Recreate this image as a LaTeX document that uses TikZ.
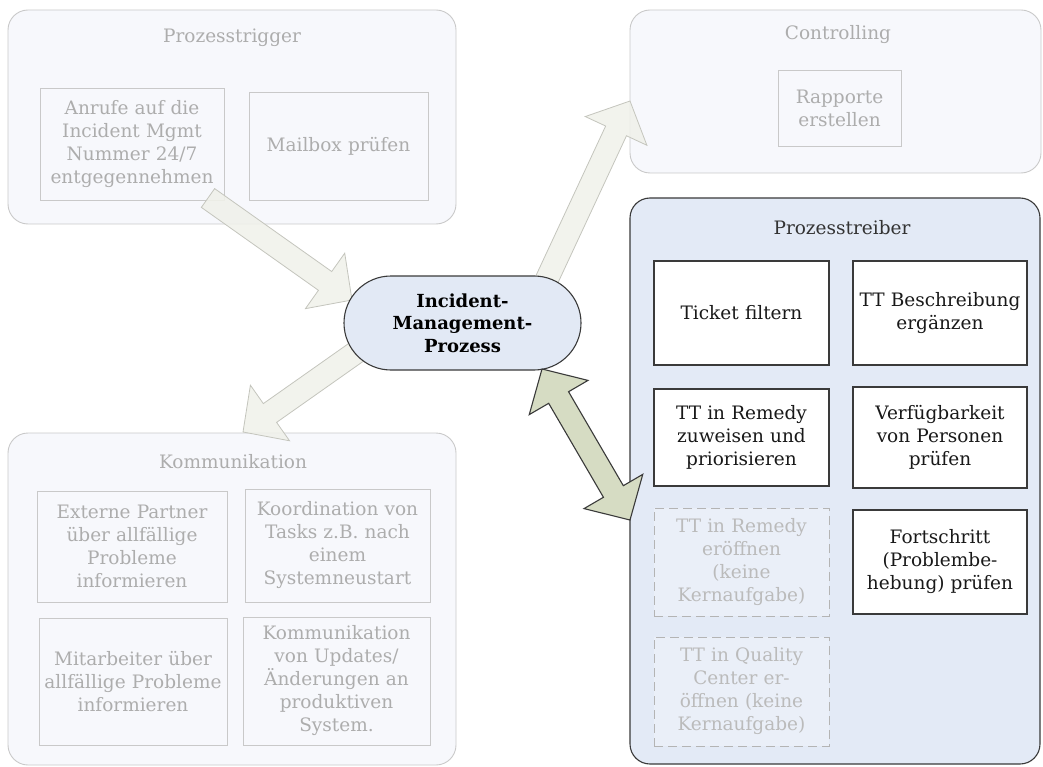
\documentclass[tikz,border=0pt]{standalone}
\usepackage{fontspec}
\setmainfont{DejaVu Serif}
\usetikzlibrary{calc}

\definecolor{pale}{HTML}{F7F8FC}
\definecolor{paleline}{HTML}{C9C9C9}
\definecolor{paletext}{HTML}{ADADAD}
\definecolor{driverfill}{HTML}{E3EAF6}
\definecolor{darkline}{HTML}{3A3A3A}
\definecolor{corefill}{HTML}{E2E9F5}
\definecolor{fadearrow}{HTML}{F0F1EA}
\definecolor{fadearrowline}{HTML}{C4C5BD}
\definecolor{linkfill}{HTML}{D6DCC3}
\definecolor{dashline}{HTML}{B4B4B4}
\definecolor{dashfill}{HTML}{EAEFF8}
\definecolor{dashtext}{HTML}{BBBBBB}

% block arrow: #1 style, #2 tail, #3 tip
\newcommand\blockarrow[3]{%
  \coordinate (ba-n) at ($(#3)!33pt!(#2)$);
  \draw[#1] ($(#2)!11.5pt!90:(#3)$) -- ($(ba-n)!11.5pt!90:(#3)$)
    -- ($(ba-n)!34pt!90:(#3)$) -- (#3) -- ($(ba-n)!34pt!-90:(#3)$)
    -- ($(ba-n)!11.5pt!-90:(#3)$) -- ($(#2)!11.5pt!-90:(#3)$) -- cycle;
}
% double-headed block arrow: #1 style, #2 and #3 the two tips
\newcommand\doubleblockarrow[3]{%
  \coordinate (dba-a) at ($(#2)!33pt!(#3)$);
  \coordinate (dba-b) at ($(#3)!33pt!(#2)$);
  \draw[#1] (#2) -- ($(dba-a)!34pt!90:(#3)$) -- ($(dba-a)!11.5pt!90:(#3)$)
    -- ($(dba-b)!11.5pt!90:(#3)$) -- ($(dba-b)!34pt!90:(#3)$) -- (#3)
    -- ($(dba-b)!34pt!-90:(#3)$) -- ($(dba-b)!11.5pt!-90:(#3)$)
    -- ($(dba-a)!11.5pt!-90:(#3)$) -- ($(dba-a)!34pt!-90:(#3)$) -- cycle;
}

\begin{document}
\begin{tikzpicture}[x=1pt,y=-1pt,
  font=\fontsize{18.5pt}{23pt}\selectfont,
  group/.style={draw=paleline, fill=pale, rounded corners=20pt, line width=0.9pt, inner sep=0pt},
  drivergroup/.style={draw=darkline, fill=driverfill, rounded corners=20pt, line width=1.1pt, inner sep=0pt},
  grouptitle/.style={text=paletext, inner sep=1pt},
  drivertitle/.style={text=black!80, inner sep=1pt},
  fadedbox/.style={draw=paleline, fill=pale, text=paletext, line width=0.9pt,
    align=center, inner xsep=0pt, inner ysep=2pt},
  taskbox/.style={draw=darkline, fill=white, text=black!90, line width=1.1pt,
    align=center, inner xsep=0pt, inner ysep=2pt},
  optbox/.style={draw=dashline, fill=dashfill, text=dashtext, line width=0.9pt,
    dash pattern=on 9pt off 5pt, align=center, inner xsep=0pt, inner ysep=2pt},
  corenode/.style={draw=darkline, fill=corefill, line width=1.1pt, rounded corners=47pt,
    minimum width=237pt, minimum height=94pt, align=center, font=\fontsize{18pt}{22.5pt}\selectfont\bfseries},
  fadedarrow/.style={draw=fadearrowline, fill=fadearrow, fill opacity=0.88, line width=0.8pt, line join=miter},
  linkarrow/.style={draw=darkline, fill=linkfill, line width=1.1pt, line join=miter}
]
\useasboundingbox (0,0) rectangle (1043,767);

% process trigger group
\node[group, minimum width=448pt, minimum height=214pt] (trig) at (232,117) {};
\node[grouptitle] (trigtitle) at (232,38) {Prozesstrigger};
\node[fadedbox, text width=184pt, minimum height=112pt] (anrufe) at (132,144)
  {Anrufe auf die\\Incident Mgmt\\Nummer 24/7\\entgegennehmen};
\node[fadedbox, text width=179pt, minimum height=108pt] (mailbox) at (338.5,146)
  {Mailbox prüfen};

% controlling group
\node[group, minimum width=411pt, minimum height=163pt] (ctrl) at (835.5,91.5) {};
\node[grouptitle] (ctrltitle) at (838,35) {Controlling};
\node[fadedbox, text width=123pt, minimum height=76pt] (rapporte) at (839.5,108)
  {Rapporte\\erstellen};

% communication group
\node[group, minimum width=448pt, minimum height=332pt] (komm) at (232,599) {};
\node[grouptitle] (kommtitle) at (233,462) {Kommunikation};
\node[fadedbox, text width=190pt, minimum height=111pt] (extern) at (132,546.5)
  {Externe Partner\\über allfällige\\Probleme\\informieren};
\node[fadedbox, text width=185pt, minimum height=113pt] (koord) at (337.5,545.5)
  {Koordination von\\Tasks z.B. nach\\einem\\Systemneustart};
\node[fadedbox, text width=188pt, minimum height=127pt] (mitarb) at (133,681.5)
  {Mitarbeiter über\\allfällige Probleme\\informieren};
\node[fadedbox, text width=187pt, minimum height=128pt] (kommupd) at (336.5,681)
  {Kommunikation\\von Updates/\\Änderungen an\\produktiven\\System.};

% process driver group
\node[drivergroup, minimum width=410pt, minimum height=566pt] (treib) at (835,481) {};
\node[drivertitle] (treibtitle) at (842,228) {Prozesstreiber};
\node[taskbox, text width=175pt, minimum height=104pt] (ticket) at (741.5,313)
  {Ticket filtern};
\node[taskbox, text width=174pt, minimum height=104pt] (ttbeschr) at (940,313)
  {TT Beschreibung\\ergänzen};
\node[taskbox, text width=175pt, minimum height=97pt] (zuweisen) at (741.5,437.5)
  {TT in Remedy\\zuweisen und\\priorisieren};
\node[taskbox, text width=174pt, minimum height=101pt] (verfueg) at (940,437.5)
  {Verfügbarkeit\\von Personen\\prüfen};
\node[optbox, text width=175pt, minimum height=108pt] (eroeffnen) at (741.5,562)
  {TT in Remedy\\eröffnen\\(keine\\Kernaufgabe)};
\node[taskbox, text width=174pt, minimum height=104pt] (fortschritt) at (940,562)
  {Fortschritt\\(Problembe-\\hebung) prüfen};
\node[optbox, text width=175pt, minimum height=109pt] (quality) at (741.5,691.5)
  {TT in Quality\\Center er-\\öffnen (keine\\Kernaufgabe)};

% arrow end points
\coordinate (trigout) at (208,198);
\coordinate (corein)  at (352,300);
\coordinate (corekomm) at (392,327);
\coordinate (kommin)  at (243,432);
\coordinate (corectrl) at (534,307);
\coordinate (ctrlin)  at (630,101);
\coordinate (corelink) at (542,369);
\coordinate (treibin) at (630,520);

% faded arrows (drawn beneath the core node)
\blockarrow{fadedarrow}{trigout}{corein}
\blockarrow{fadedarrow}{corekomm}{kommin}
\blockarrow{fadedarrow}{corectrl}{ctrlin}

% core process node
\node[corenode] (core) at (462.5,323) {Incident-\\Management-\\Prozess};

% link between core process and process drivers
\doubleblockarrow{linkarrow}{corelink}{treibin}
\end{tikzpicture}
\end{document}
